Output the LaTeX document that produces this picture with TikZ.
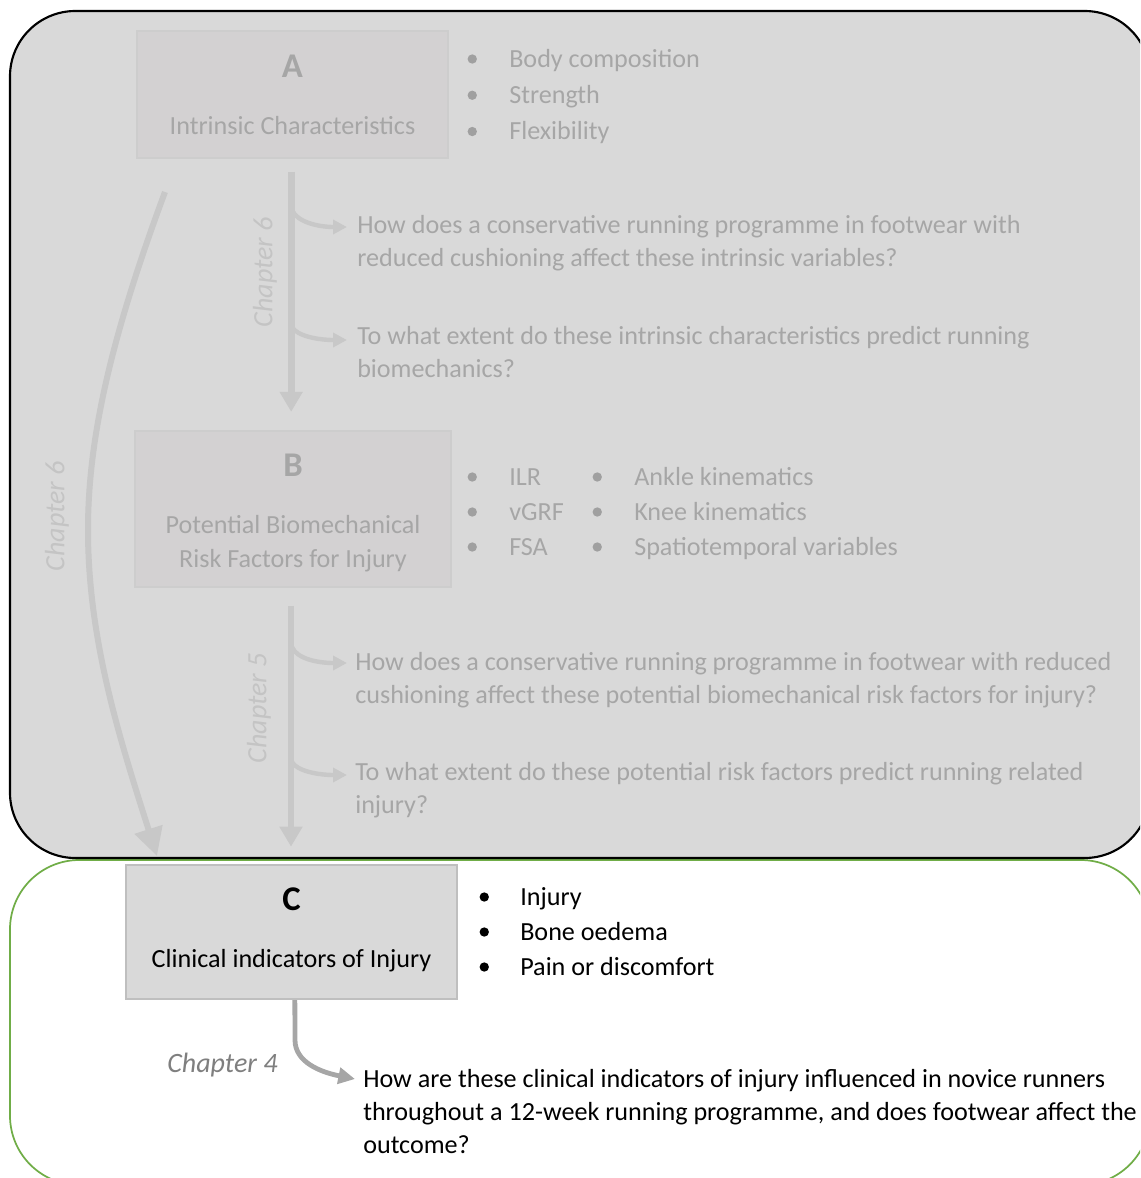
\documentclass[tikz,border=0pt]{standalone}
\usepackage{fontspec}
\setmainfont{Carlito}
\usetikzlibrary{arrows.meta}
\definecolor{bgtop}{HTML}{D9D9D9}
\definecolor{boxab}{HTML}{D3D1D2}
\definecolor{boxabline}{HTML}{CDCDCD}
\definecolor{fadetxt}{HTML}{A6A6A6}
\definecolor{fadedot}{HTML}{A0A0A0}
\definecolor{fadearrow}{HTML}{C8C8C8}
\definecolor{fadelabel}{HTML}{C4C4C4}
\definecolor{boxcline}{HTML}{BFBFBF}
\definecolor{arrc}{HTML}{A6A6A6}
\definecolor{chapc}{HTML}{7F7F7F}
\definecolor{grn}{HTML}{70AD47}
\newcommand{\bdot}[2]{\makebox[#1][c]{\tikz[baseline=0pt]\fill[#2] (0pt,6pt) circle[radius=3.5pt];}}
\begin{document}
\begin{tikzpicture}[x=0.75pt,y=-0.75pt,
  bodyfont/.style={font=\fontsize{19.6}{24.75}\selectfont},
  qtxt/.style={bodyfont, inner sep=0pt, anchor=base west, align=left},
  bultxt/.style={inner sep=0pt, anchor=base west, font=\fontsize{19.6}{27.2}\selectfont},
  letter/.style={inner sep=0pt, anchor=base, font=\fontsize{26}{30}\selectfont\bfseries},
  boxtitle/.style={bodyfont, inner sep=0pt, anchor=base, align=center},
  abbox/.style={draw=boxabline, fill=boxab, line width=0.8pt, inner sep=0pt},
  chaplabel/.style={inner sep=0pt, font=\fontsize{21}{25}\selectfont\itshape},
  varrow/.style={draw=fadearrow, line width=5pt, -{Triangle[length=15pt,width=16.5pt]}},
  larrow/.style={draw=fadearrow, line width=4.5pt, -{Triangle[length=21pt,width=21pt]}},
  barrow/.style={draw=fadearrow, line width=3.3pt, -{Triangle[length=10.5pt,width=10.5pt]}},
  carrow/.style={draw=arrc, line width=3.6pt, -{Triangle[length=12.5pt,width=12pt]}}
]
\useasboundingbox (0,0) rectangle (1140,1178);
\begin{scope}
  \clip (0,0) rectangle (1140,1178);
  \draw[grn, line width=1.3pt, rounded corners=52pt] (10,860) rectangle (1150,1185);
  \draw[black, line width=1.6pt, fill=bgtop, rounded corners=49pt] (10,11) rectangle (1150,858);
\end{scope}

% boxes
\node[abbox, minimum width=233.25pt, minimum height=95.25pt] (boxA) at (292.5,94.5) {};
\node[abbox, minimum width=237pt, minimum height=117pt] (boxB) at (293,509) {};
\node[draw=boxcline, fill=bgtop, line width=1.5pt, inner sep=0pt, minimum width=248.25pt, minimum height=100.5pt] (boxC) at (291.5,932) {};

% box texts
\node[letter, text=fadetxt] (letA) at (292.5,77) {A};
\node[boxtitle, text=fadetxt] (titA) at (292.5,134) {Intrinsic Characteristics};
\node[letter, text=fadetxt] (letB) at (293,476) {B};
\node[boxtitle, text=fadetxt, font=\fontsize{19.6}{25.5}\selectfont] (titB) at (293,567) {Potential Biomechanical\\Risk Factors for Injury};
\node[letter, text=black] (letC) at (291.5,910) {C};
\node[boxtitle, text=black] (titC) at (291.5,967) {Clinical indicators of Injury};

% bullet lists
\node[bultxt, text=fadetxt] (bulA) at (435,67) {\begin{tabular}[t]{@{}l@{}l@{}}\bdot{55.5pt}{fadedot} & Body composition\\ \bdot{55.5pt}{fadedot} & Strength\\ \bdot{55.5pt}{fadedot} & Flexibility\end{tabular}};
\node[bultxt, text=fadetxt, font=\fontsize{19.6}{26.25}\selectfont] (bulB1) at (435,485) {\begin{tabular}[t]{@{}l@{}l@{}}\bdot{55.5pt}{fadedot} & ILR\\ \bdot{55.5pt}{fadedot} & vGRF\\ \bdot{55.5pt}{fadedot} & FSA\end{tabular}};
\node[bultxt, text=fadetxt, font=\fontsize{19.6}{26.25}\selectfont] (bulB2) at (560,485) {\begin{tabular}[t]{@{}l@{}l@{}}\bdot{55.5pt}{fadedot} & Ankle kinematics\\ \bdot{55.5pt}{fadedot} & Knee kinematics\\ \bdot{55.5pt}{fadedot} & Spatiotemporal variables\end{tabular}};
\node[bultxt, text=black, font=\fontsize{19.6}{26.25}\selectfont] (bulC) at (448,905) {\begin{tabular}[t]{@{}l@{}l@{}}\bdot{54pt}{black} & Injury\\ \bdot{54pt}{black} & Bone oedema\\ \bdot{54pt}{black} & Pain or discomfort\end{tabular}};

% questions (anchored at the baseline of their last line)
\node[qtxt, text=fadetxt] (q1) at (357,266) {How does a conservative running programme in footwear with\\reduced cushioning affect these intrinsic variables?};
\node[qtxt, text=fadetxt] (q2) at (357,377) {To what extent do these intrinsic characteristics predict running\\biomechanics?};
\node[qtxt, text=fadetxt] (q3) at (355,703) {How does a conservative running programme in footwear with reduced\\cushioning affect these potential biomechanical risk factors for injury?};
\node[qtxt, text=fadetxt] (q4) at (355,813) {To what extent do these potential risk factors predict running related\\injury?};
\node[qtxt, text=black] (q5) at (363,1153) {How are these clinical indicators of injury influenced in novice runners\\throughout a 12-week running programme, and does footwear affect the\\outcome?};

% chapter labels
\node[chaplabel, text=fadelabel, rotate=90] (ch6a) at (265,272) {Chapter 6};
\node[chaplabel, text=fadelabel, rotate=90] (ch6b) at (57,516) {Chapter 6};
\node[chaplabel, text=fadelabel, rotate=90] (ch5) at (259,708) {Chapter 5};
\node[chaplabel, text=chapc, anchor=base west] (ch4) at (167,1072) {Chapter 4};

% main vertical arrows
\draw[varrow, shorten <=9.75pt, shorten >=14pt] ([xshift=-1pt]boxA.south) -- ([xshift=-1pt]boxA.south |- boxB.north);
\draw[varrow, shorten <=13.5pt, shorten >=13pt] ([xshift=-1.5pt]boxB.south) -- ([xshift=-1.5pt]boxB.south |- boxC.north);

% branch arrows
\coordinate (j1) at (292,210);
\coordinate (j2) at (292,327);
\coordinate (j3) at (292,647);
\coordinate (j4) at (292,762);
\draw[barrow] (j1) .. controls (297,222) and (318,227) .. ([xshift=-7.5pt,yshift=29.25pt]q1.base west);
\draw[barrow] (j2) .. controls (297,336) and (318,340) .. ([xshift=-7.5pt,yshift=27.75pt]q2.base west);
\draw[barrow] (j3) .. controls (297,659) and (318,663) .. ([xshift=-6pt,yshift=30pt]q3.base west);
\draw[barrow] (j4) .. controls (297,771) and (318,775) .. ([xshift=-6pt,yshift=28.5pt]q4.base west);

% long curved arrow
\coordinate (c6s) at (165,192);
\draw[larrow] (c6s) .. controls (110,340) and (88,440) .. (88,530) .. controls (88,640) and (120,740) .. ([xshift=24pt,yshift=6pt]boxC.north west);

% arrow from C
\draw[carrow] ([xshift=2.5pt]boxC.south) -- (295,1040) .. controls (295,1062) and (320,1072) .. ([xshift=-6pt,yshift=55.5pt]q5.base west);
\end{tikzpicture}
\end{document}
